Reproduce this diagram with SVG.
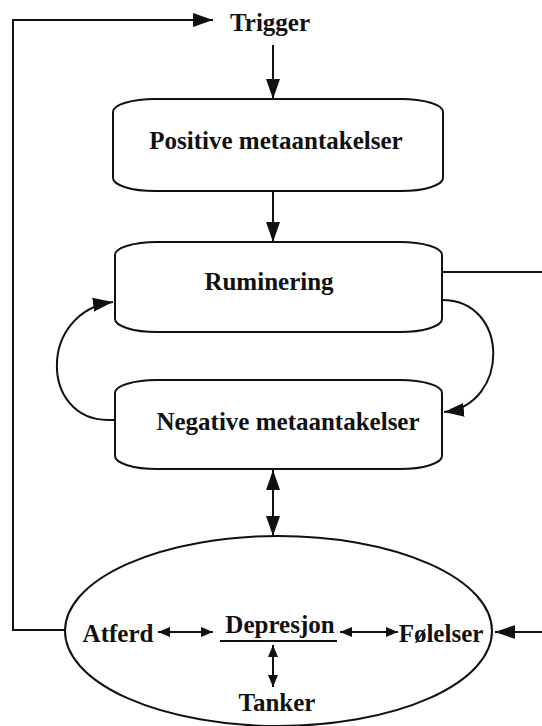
<svg xmlns="http://www.w3.org/2000/svg" width="542" height="726" viewBox="0 0 542 726">
<style>
.t{font-family:"Liberation Serif","Times New Roman",serif;font-weight:bold;font-size:25px;fill:#111;text-anchor:middle}
.box{fill:#fff;stroke:#111;stroke-width:2}
.c{fill:none;stroke:#111;stroke-width:2}
</style>
<defs>
<marker id="big" markerUnits="userSpaceOnUse" markerWidth="22" markerHeight="16" refX="20" refY="8" orient="auto-start-reverse"><path d="M0,1 L20,8 L0,15 Z" fill="#111"/></marker>
<marker id="sm" markerUnits="userSpaceOnUse" markerWidth="14" markerHeight="10" refX="12" refY="5" orient="auto-start-reverse"><path d="M0,0 L12,5 L0,10 Z" fill="#111"/></marker>
</defs>
<rect width="542" height="726" fill="#fff"/>
<g id="trigger"><text class="t" x="270" y="31">Trigger</text></g>
<g id="positive"><rect class="box" x="113" y="99" width="330" height="92" rx="42" ry="13"/><text class="t" x="276" y="149">Positive metaantakelser</text></g>
<g id="ruminering"><rect class="box" x="115" y="242" width="327" height="90" rx="42" ry="13"/><text class="t" x="269" y="290">Ruminering</text></g>
<g id="negative"><rect class="box" x="115" y="380" width="327" height="89" rx="42" ry="13"/><text class="t" x="288" y="430">Negative metaantakelser</text></g>
<g id="depresjon-ellipse"><ellipse class="c" cx="278.5" cy="631" rx="213.5" ry="95"/></g>
<g id="atferd"><text class="t" x="118" y="642">Atferd</text></g>
<g id="depresjon"><text class="t" x="280" y="633">Depresjon</text><line x1="220" y1="641" x2="337" y2="641" stroke="#111" stroke-width="2"/></g>
<g id="folelser"><text class="t" x="441" y="642">Følelser</text></g>
<g id="tanker"><text class="t" x="277" y="711">Tanker</text></g>
<g id="connectors">
<polyline class="c" points="65,630 13,630 13,20 213,20" marker-end="url(#big)"/>
<line class="c" x1="273" y1="45" x2="273" y2="99" marker-end="url(#big)"/>
<line class="c" x1="273" y1="191" x2="273" y2="242" marker-end="url(#big)"/>
<path class="c" d="M115,420 L108,420 C40,420 38,312 113,302" marker-end="url(#big)"/>
<path class="c" d="M442,300 C510,300 510,405 444,412" marker-end="url(#big)"/>
<line class="c" x1="442" y1="272" x2="542" y2="272"/>
<line class="c" x1="542" y1="632" x2="495" y2="632" marker-end="url(#big)"/>
<line class="c" x1="273" y1="470" x2="273" y2="536" marker-start="url(#big)" marker-end="url(#big)"/>
<line class="c" x1="158" y1="632" x2="213" y2="632" marker-start="url(#sm)" marker-end="url(#sm)"/>
<line class="c" x1="340" y1="632" x2="398" y2="632" marker-start="url(#sm)" marker-end="url(#sm)"/>
<line class="c" x1="273" y1="645" x2="273" y2="687" marker-start="url(#sm)" marker-end="url(#sm)"/>
</g>
</svg>
